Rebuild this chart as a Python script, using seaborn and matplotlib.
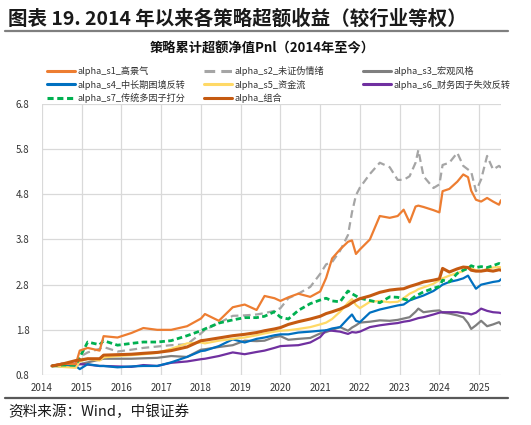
import numpy as np
import pandas as pd
import matplotlib
matplotlib.use("Agg")
import matplotlib.pyplot as plt
from matplotlib.lines import Line2D
import seaborn as sns

# decimal-year dates
years = [2014.25, 2014.5, 2014.85, 2014.95, 2015.15, 2015.45, 2015.55, 2015.9,
         2016.25, 2016.55, 2016.9, 2017.25, 2017.65, 2018.0, 2018.1, 2018.45,
         2018.8, 2019.1, 2019.4, 2019.6, 2019.85, 2020.0, 2020.2, 2020.45,
         2020.75, 2021.0, 2021.15, 2021.3, 2021.5, 2021.7, 2021.8, 2021.9,
         2022.0, 2022.25, 2022.5, 2022.75, 2022.95, 2023.1, 2023.25, 2023.4,
         2023.47, 2023.6, 2023.85, 2024.0, 2024.08, 2024.25, 2024.45, 2024.6,
         2024.72, 2024.8, 2024.92, 2025.05, 2025.2, 2025.35, 2025.5, 2025.55]

s1 = [1.00, 1.05, 1.04, 1.34, 1.40, 1.34, 1.66, 1.63, 1.73, 1.84, 1.80, 1.80,
      1.88, 2.05, 2.15, 2.00, 2.30, 2.36, 2.24, 2.55, 2.50, 2.44, 2.52, 2.60,
      2.53, 2.65, 2.95, 3.38, 3.58, 3.75, 3.78, 3.48, 3.58, 3.80, 4.32, 4.28,
      4.32, 4.46, 4.18, 4.53, 4.55, 4.52, 4.45, 4.40, 4.87, 4.92, 5.08, 5.24,
      5.18, 4.88, 4.68, 4.64, 4.72, 4.64, 4.57, 4.67]
s2 = [1.00, 1.03, 1.02, 1.20, 1.30, 1.38, 1.42, 1.32, 1.36, 1.40, 1.43, 1.46,
      1.48, 1.72, 1.80, 1.95, 2.11, 2.12, 2.14, 2.17, 2.22, 2.28, 2.50, 2.60,
      2.75, 3.04, 3.25, 3.30, 3.55, 3.90, 4.40, 4.78, 4.95, 5.25, 5.50, 5.40,
      5.12, 5.12, 5.20, 5.50, 5.78, 5.20, 4.94, 5.02, 5.45, 5.50, 5.72, 5.43,
      5.35, 5.30, 4.87, 5.13, 5.65, 5.35, 5.43, 5.39]
s3 = [1.00, 1.01, 1.02, 1.04, 1.08, 1.14, 1.16, 1.16, 1.16, 1.17, 1.18, 1.22,
      1.20, 1.36, 1.37, 1.42, 1.46, 1.56, 1.55, 1.56, 1.64, 1.66, 1.58, 1.60,
      1.62, 1.72, 1.75, 1.80, 1.86, 1.78, 1.85, 1.90, 1.96, 1.98, 2.01, 2.00,
      2.02, 2.05, 2.08, 2.20, 2.27, 2.19, 2.22, 2.23, 2.18, 2.16, 2.12, 2.08,
      1.95, 1.82, 1.90, 2.00, 1.88, 1.92, 1.97, 1.92]
s4 = [1.00, 0.99, 1.00, 0.93, 1.04, 1.00, 1.00, 0.97, 0.99, 1.00, 1.00, 1.08,
      1.20, 1.33, 1.34, 1.44, 1.59, 1.52, 1.60, 1.63, 1.68, 1.70, 1.70, 1.74,
      1.76, 1.78, 1.79, 1.83, 1.86, 2.05, 2.14, 2.00, 1.97, 2.18, 2.25, 2.30,
      2.34, 2.36, 2.45, 2.50, 2.52, 2.56, 2.66, 2.75, 2.80, 2.86, 2.90, 2.94,
      3.00, 2.88, 2.71, 2.80, 2.83, 2.86, 2.88, 2.92]
s5 = [1.00, 0.98, 0.96, 1.10, 1.16, 1.12, 1.19, 1.22, 1.24, 1.26, 1.29, 1.38,
      1.50, 1.52, 1.50, 1.56, 1.60, 1.63, 1.68, 1.72, 1.76, 1.78, 1.79, 1.82,
      1.86, 1.92, 1.96, 2.04, 2.20, 2.40, 2.48, 2.35, 2.28, 2.42, 2.44, 2.41,
      2.42, 2.50, 2.60, 2.66, 2.70, 2.74, 2.82, 2.90, 2.94, 3.00, 3.06, 3.10,
      3.19, 3.16, 3.12, 3.10, 3.15, 3.18, 3.19, 3.18]
s6 = [1.00, 1.05, 1.05, 1.04, 1.03, 1.00, 1.00, 0.99, 0.98, 1.02, 1.00, 1.07,
      1.10, 1.15, 1.16, 1.22, 1.30, 1.26, 1.31, 1.34, 1.40, 1.44, 1.45, 1.46,
      1.52, 1.64, 1.79, 1.78, 1.76, 1.71, 1.75, 1.74, 1.76, 1.86, 1.90, 1.93,
      1.95, 1.98, 2.00, 2.04, 2.06, 2.08, 2.14, 2.18, 2.19, 2.19, 2.19, 2.17,
      2.16, 2.14, 2.18, 2.27, 2.22, 2.19, 2.18, 2.17]
s7 = [1.00, 1.02, 1.02, 1.19, 1.53, 1.47, 1.56, 1.46, 1.50, 1.53, 1.53, 1.56,
      1.67, 1.78, 1.82, 1.95, 2.02, 2.07, 2.07, 2.10, 2.20, 2.08, 2.04, 2.23,
      2.38, 2.46, 2.50, 2.44, 2.42, 2.66, 2.60, 2.55, 2.50, 2.45, 2.40, 2.53,
      2.52, 2.48, 2.45, 2.55, 2.58, 2.64, 2.72, 2.76, 2.90, 2.86, 3.05, 3.12,
      3.16, 3.22, 3.18, 3.20, 3.18, 3.22, 3.27, 3.25]
combo = [1.00, 1.04, 1.12, 1.13, 1.16, 1.16, 1.24, 1.25, 1.26, 1.28, 1.30, 1.34,
         1.42, 1.56, 1.57, 1.62, 1.67, 1.70, 1.74, 1.78, 1.82, 1.85, 1.92, 1.98,
         2.04, 2.10, 2.16, 2.20, 2.26, 2.34, 2.40, 2.45, 2.49, 2.55, 2.63, 2.68,
         2.70, 2.71, 2.76, 2.80, 2.82, 2.86, 2.90, 2.93, 3.16, 3.08, 3.15, 3.19,
         3.18, 3.12, 3.10, 3.10, 3.12, 3.10, 3.13, 3.12]

names = ["alpha_s1_高景气", "alpha_s2_未证伪情绪", "alpha_s3_宏观风格",
         "alpha_s4_中长期困境反转", "alpha_s5_资金流", "alpha_s6_财务因子失效反转",
         "alpha_s7_传统多因子打分", "alpha_组合"]
year_ticks = list(range(2014, 2026))
value_ticks = [0.8, 1.8, 2.8, 3.8, 4.8, 5.8, 6.8]

series = dict(zip(names, [s1, s2, s3, s4, s5, s6, s7, combo]))
df = pd.DataFrame({"year": years, **series})

colors = dict(zip(names, ["#ED7D31", "#A5A5A5", "#7F7F7F", "#0070C0",
                          "#FFD966", "#7030A0", "#00B050", "#C55A11"]))
dash = {names[1]: (3.5, 2.0), names[6]: (2.0, 1.2)}
widths = {n: 1.6 for n in names}
widths[names[6]] = 2.0
widths[names[7]] = 2.2

sns.set_style("white")
plt.rcParams["font.family"] = ["Noto Sans CJK SC", "DejaVu Sans"]

fig = plt.figure(figsize=(5.31, 4.25), dpi=100)
ax = fig.add_axes([42 / 531, 1 - 375 / 425, 459 / 531, 271 / 425])

draw_order = [names[1], names[2], names[5], names[3], names[4], names[6], names[0], names[7]]
for n in draw_order:
    ls = (0, dash[n]) if n in dash else "-"
    sns.lineplot(data=df, x="year", y=n, ax=ax, color=colors[n],
                 linewidth=widths[n], linestyle=ls, legend=False)

ax.set_xlim(2014, 2025.55)
ax.set_ylim(0.8, 6.8)
ax.set_xticks(year_ticks)
ax.set_xticklabels([str(y) for y in year_ticks])
ax.set_yticks(value_ticks)
ax.set_yticklabels([f"{v:.1f}" for v in value_ticks])
ax.grid(True, color="#D9D9D9", linewidth=0.9)
ax.set_axisbelow(True)
for s in ax.spines.values():
    s.set_visible(False)
ax.tick_params(axis="both", length=0, labelsize=7, colors="#333333")
ax.tick_params(axis="y", pad=9)
ax.tick_params(axis="x", pad=6)
ax.set_xlabel("")
ax.set_ylabel("")

# legend: three columns, placed by hand
cols = [[0, 3, 6], [1, 4, 7], [2, 5]]
col_x = [47, 204, 363]
for k, (idx, xpx) in enumerate(zip(cols, col_x)):
    handles = []
    for i in idx:
        n = names[i]
        ls = (0, dash[n]) if n in dash else "-"
        handles.append(Line2D([], [], color=colors[n], linewidth=2.2, linestyle=ls))
    leg = fig.legend(handles, [names[i] for i in idx], loc="upper left",
                     bbox_to_anchor=(xpx / 531, 1 - 66 / 425), frameon=False,
                     fontsize=6.6, handlelength=3.0, handletextpad=0.3,
                     labelspacing=0.4, borderaxespad=0, borderpad=0)
    for t in leg.get_texts():
        t.set_color("#333333")

# titles, rules and source
fig.text(8 / 531, 1 - 19 / 425, "图表 19. 2014 年以来各策略超额收益（较行业等权）",
         fontsize=14, fontweight="bold", va="center", ha="left", color="#1a1a1a")
fig.add_artist(Line2D([5 / 531, 508 / 531], [1 - 31 / 425, 1 - 31 / 425],
                      color="#7F7F7F", linewidth=1.6))
fig.text(262 / 531, 1 - 49 / 425, "策略累计超额净值Pnl（2014年至今）",
         fontsize=9.5, fontweight="bold", va="center", ha="center", color="#111111")
fig.add_artist(Line2D([5 / 531, 508 / 531], [1 - 398 / 425, 1 - 398 / 425],
                      color="#595959", linewidth=1.6))
fig.text(8 / 531, 1 - 412 / 425, "资料来源：Wind，中银证券",
         fontsize=10.5, style="italic", va="center", ha="left", color="#1a1a1a")

fig.savefig("out.png", dpi=100)
